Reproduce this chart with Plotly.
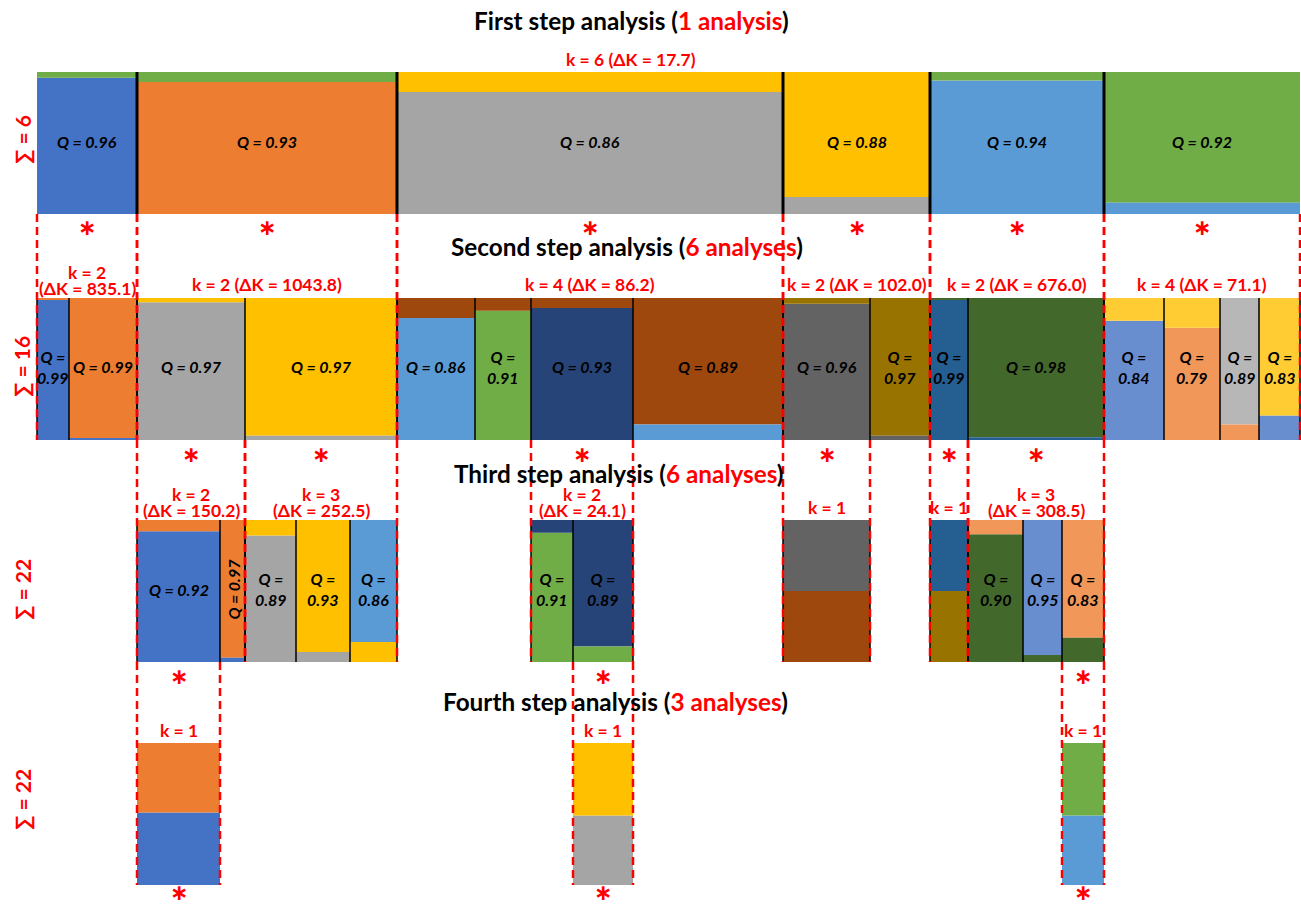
import plotly.graph_objects as go

W, H = 1301, 906

PALETTE = {
    "blue": "#4472C4", "orange": "#ED7D31", "gray": "#A5A5A5", "gold": "#FFC000",
    "sky": "#5B9BD5", "green": "#70AD47", "navy": "#264478", "rust": "#9E480E",
    "slate": "#636363", "olive": "#997300", "steel": "#255E91", "moss": "#43682B",
    "cornflower": "#698ED0", "salmon": "#F1975A", "silver": "#B7B7B7", "amber": "#FFCD33",
}
RED = "#FF0000"

STEP_TITLES = ["First step analysis", "Second step analysis", "Third step analysis", "Fourth step analysis"]
STEP_COUNTS = ["1 analysis", "6 analyses", "6 analyses", "3 analyses"]
STEP_SUMS = [6, 16, 22, 22]

# Step 1: one analysis over all individuals
STEP1_K = ["k = 6 (ΔK = 17.7)"]
STEP1_PARENT = [None]
STEP1_SIZES = [[100, 260, 386, 147, 174, 196]]
STEP1_Q = [[0.96, 0.93, 0.86, 0.88, 0.94, 0.92]]
STEP1_CLUSTER = [["blue", "orange", "gray", "gold", "sky", "green"]]
STEP1_ADMIX = [["green", "green", "gold", "gray", "green", "sky"]]
STEP1_ADMIX_TOP = [[True, True, True, False, True, False]]
STEP1_PICKED = [[True, True, True, True, True, True]]

# Step 2: each first-step cluster re-analysed
STEP2_K = ["k = 2<br>(ΔK = 835.1)", "k = 2 (ΔK = 1043.8)", "k = 4 (ΔK = 86.2)",
           "k = 2 (ΔK = 102.0)", "k = 2 (ΔK = 676.0)", "k = 4 (ΔK = 71.1)"]
STEP2_PARENT = [(0, 0), (0, 1), (0, 2), (0, 3), (0, 4), (0, 5)]
STEP2_SIZES = [[32, 68], [108, 152], [78, 56, 102, 150], [87, 60], [38, 136], [60, 56, 39, 41]]
STEP2_Q = [[0.99, 0.99], [0.97, 0.97], [0.86, 0.91, 0.93, 0.89], [0.96, 0.97], [0.99, 0.98],
           [0.84, 0.79, 0.89, 0.83]]
STEP2_CLUSTER = [["blue", "orange"], ["gray", "gold"], ["sky", "green", "navy", "rust"],
                 ["slate", "olive"], ["steel", "moss"], ["cornflower", "salmon", "silver", "amber"]]
STEP2_ADMIX = [["orange", "blue"], ["gold", "gray"], ["rust", "rust", "rust", "sky"],
               ["olive", "slate"], ["moss", "steel"], ["amber", "amber", "salmon", "cornflower"]]
STEP2_ADMIX_TOP = [[True, False], [True, False], [True, True, True, False], [True, False],
                   [True, False], [True, True, False, False]]
STEP2_PICKED = [[False, False], [True, True], [False, False, True, False], [True, False],
                [True, True], [False, False, False, False]]

# Step 3
STEP3_K = ["k = 2<br>(ΔK = 150.2)", "k = 3<br>(ΔK = 252.5)", "k = 2<br>(ΔK = 24.1)",
           "k = 1", "k = 1", "k = 3<br>(ΔK = 308.5)"]
STEP3_PARENT = [(1, 0), (1, 1), (2, 2), (3, 0), (4, 0), (4, 1)]
STEP3_SIZES = [[83, 25], [51, 54, 47], [42, 60], [87], [38], [55, 39, 42]]
STEP3_Q = [[0.92, 0.97], [0.89, 0.93, 0.86], [0.91, 0.89], [0.50], [0.50], [0.90, 0.95, 0.83]]
STEP3_CLUSTER = [["blue", "orange"], ["gray", "gold", "sky"], ["green", "navy"], ["rust"],
                 ["olive"], ["moss", "cornflower", "salmon"]]
STEP3_ADMIX = [["orange", "blue"], ["gold", "gray", "gold"], ["navy", "green"], ["slate"],
               ["steel"], ["salmon", "moss", "moss"]]
STEP3_ADMIX_TOP = [[True, False], [True, False, False], [True, False], [True], [True],
                   [True, False, False]]
STEP3_PICKED = [[True, False], [False, False, False], [False, True], [False], [False],
                [False, False, True]]

# Step 4
STEP4_K = ["k = 1", "k = 1", "k = 1"]
STEP4_PARENT = [(0, 0), (2, 1), (5, 2)]
STEP4_SIZES = [[83], [60], [42]]
STEP4_Q = [[0.51], [0.49], [0.49]]
STEP4_CLUSTER = [["blue"], ["gray"], ["sky"]]
STEP4_ADMIX = [["orange"], ["gold"], ["green"]]
STEP4_ADMIX_TOP = [[True], [True], [True]]
STEP4_PICKED = [[True], [True], [True]]

steps = [
    (STEP1_K, STEP1_PARENT, STEP1_SIZES, STEP1_Q, STEP1_CLUSTER, STEP1_ADMIX, STEP1_ADMIX_TOP, STEP1_PICKED),
    (STEP2_K, STEP2_PARENT, STEP2_SIZES, STEP2_Q, STEP2_CLUSTER, STEP2_ADMIX, STEP2_ADMIX_TOP, STEP2_PICKED),
    (STEP3_K, STEP3_PARENT, STEP3_SIZES, STEP3_Q, STEP3_CLUSTER, STEP3_ADMIX, STEP3_ADMIX_TOP, STEP3_PICKED),
    (STEP4_K, STEP4_PARENT, STEP4_SIZES, STEP4_Q, STEP4_CLUSTER, STEP4_ADMIX, STEP4_ADMIX_TOP, STEP4_PICKED),
]

# page layout (pixels)
X0_PX = 37
ROW_TOP = [72, 298, 520, 743]
ROW_H = 142
TITLE_Y = [20, 247, 473, 701]
TITLE_X = [631, 627, 618, 615]
SUM_Y = [140, 367, 590, 800]
FONT = "Lato, 'Open Sans', sans-serif"
STAR_FONT = "'DejaVu Sans', sans-serif"


def py(p):
    return 1 - p / H


def px(p):
    return p / W


fig = go.Figure()
shapes, ann = [], []
layout_axes = {}
prev_starts = None

for s, (klab, parent, sizes, qs, cls, ads, tops, picks) in enumerate(steps):
    yname = "y" if s == 0 else f"y{s + 1}"
    top_px = ROW_TOP[s]
    bot_px = top_px + ROW_H
    mid_px = (top_px + bot_px) / 2
    layout_axes["yaxis" if s == 0 else f"yaxis{s + 1}"] = dict(
        domain=[py(bot_px), py(top_px)], range=[0, 1], visible=False, fixedrange=True)

    xs, ws, hs, bs, cs = [], [], [], [], []
    step_starts = []
    for a in range(len(sizes)):
        x0 = 0 if parent[a] is None else prev_starts[parent[a][0]][parent[a][1]]
        cur = x0
        starts = []
        for c, n in enumerate(sizes[a]):
            starts.append(cur)
            q = qs[a][c]
            main_base, admix_base = (0, q) if tops[a][c] else (1 - q, 0)
            xs += [cur + n / 2, cur + n / 2]
            ws += [n, n]
            hs += [q, 1 - q]
            bs += [main_base, admix_base]
            cs += [PALETTE[cls[a][c]], PALETTE[ads[a][c]]]
            cur += n
        x1 = cur
        step_starts.append(starts)
        k = len(sizes[a])

        # black separators between clusters
        lw = 3 if s == 0 else 1.5
        edges = starts[1:] + ([x0, x1] if s in (1, 2) else [])
        for xb in edges:
            shapes.append(dict(type="line", xref="x", yref=yname, x0=xb, x1=xb, y0=0, y1=1,
                               line=dict(color="black", width=lw), layer="above"))

        # dashed connectors from the parent row
        if s > 0:
            for xb in (x0, x1):
                shapes.append(dict(type="line", xref="x", yref="paper", x0=xb, x1=xb,
                                   y0=py(ROW_TOP[s - 1] + ROW_H), y1=py(bot_px),
                                   line=dict(color=RED, width=2.5, dash="8px,5px"), layer="above"))

        # analysis label
        lines = klab[a].split("<br>")
        if parent[a] is None:
            lx, lxref = px(TITLE_X[s]), "paper"
        else:
            lx, lxref = (x0 + x1) / 2, "x"
        for i, line in enumerate(lines):
            yc = top_px - (13 if len(lines) == 1 else 10) - 16 * (len(lines) - 1 - i)
            ann.append(dict(x=lx, y=py(yc), xref=lxref, yref="paper", text=f"<b>{line}</b>",
                            showarrow=False, font=dict(family=FONT, size=17.5, color=RED),
                            xanchor="center", yanchor="middle"))

        for c, n in enumerate(sizes[a]):
            xc = starts[c] + n / 2
            if k > 1:
                q = qs[a][c]
                angle = 0
                if n < 30:
                    txt = f"<b><i>Q = {q:.2f}</i></b>"
                    angle = -90
                elif n < 62:
                    txt = f"<b><i>Q =<br>{q:.2f}</i></b>"
                else:
                    txt = f"<b><i>Q = {q:.2f}</i></b>"
                ann.append(dict(x=xc, y=py(mid_px - 2), xref="x", yref="paper", text=txt,
                                showarrow=False, textangle=angle,
                                font=dict(family=FONT, size=16, color="black"),
                                xanchor="center", yanchor="middle"))
            if picks[a][c]:
                star_y = min(bot_px + 14, H - 14)
                ann.append(dict(x=xc, y=py(star_y), xref="x", yref="paper", text="<b>∗</b>",
                                showarrow=False,
                                font=dict(family=STAR_FONT, size=22, color=RED),
                                xanchor="center", yanchor="middle"))

    prev_starts = step_starts
    fig.add_trace(go.Bar(x=xs, y=hs, base=bs, width=ws, yaxis=yname, xaxis="x",
                         marker=dict(color=cs, line=dict(width=0)), hoverinfo="skip",
                         showlegend=False))

    # step title and row total
    ann.append(dict(x=px(TITLE_X[s]), y=py(TITLE_Y[s]), xref="paper", yref="paper",
                    text=f"<b>{STEP_TITLES[s]} (<span style='color:{RED}'>{STEP_COUNTS[s]}</span>)</b>",
                    showarrow=False, font=dict(family=FONT, size=24.3, color="black"),
                    xanchor="center", yanchor="middle"))
    ann.append(dict(x=px(22), y=py(SUM_Y[s]), xref="paper", yref="paper",
                    text=f"<b>∑ = {STEP_SUMS[s]}</b>", textangle=-90, showarrow=False,
                    font=dict(family=FONT, size=21, color=RED), xanchor="center", yanchor="middle"))

fig.update_layout(
    width=W, height=H, autosize=False,
    margin=dict(l=0, r=0, t=0, b=0),
    paper_bgcolor="white", plot_bgcolor="white",
    barmode="overlay",
    xaxis=dict(range=[-X0_PX, W - X0_PX], domain=[0, 1], visible=False, fixedrange=True),
    shapes=shapes, annotations=ann,
    **layout_axes,
)

fig.write_html("out.html")
